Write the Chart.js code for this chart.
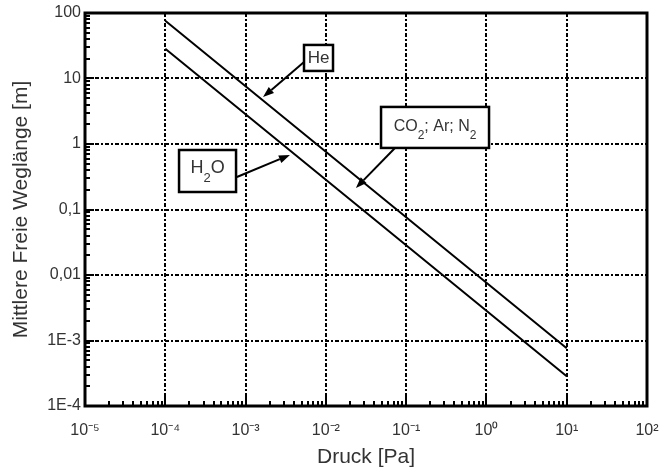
<!DOCTYPE html>
<html>
<head>
<meta charset="utf-8">
<script src="https://cdn.jsdelivr.net/npm/chart.js@4/dist/chart.umd.min.js"></script>
<style>
html,body{margin:0;padding:0;background:#fff;}
canvas{display:block;}
</style>
</head>
<body>
<canvas id="c" width="660" height="470"></canvas>
<script>
// ---- data ----
const pressure = [1e-4, 1e-3, 1e-2, 1e-1, 1, 10];
const heValues = [76, 7.6, 0.76, 0.076, 0.0076, 0.00076];
const h2oValues = [28.5, 2.85, 0.285, 0.0285, 0.00285, 0.000285];
const xTickValues = [1e-5, 1e-4, 1e-3, 1e-2, 1e-1, 1, 10, 100];
const xTickLabels = ['10⁻⁵', '10⁻⁴', '10⁻³', '10⁻²', '10⁻¹', '10⁰', '10¹', '10²'];
const yTickValues = [1e-4, 1e-3, 0.01, 0.1, 1, 10, 100];
const yTickLabels = ['1E-4', '1E-3', '0,01', '0,1', '1', '10', '100'];
const xTitle = 'Druck [Pa]';
const yTitle = 'Mittlere Freie Weglänge [m]';
// annotation labels (text parts, sub = subscript), anchored in data coordinates
const annotations = [
  {parts: [{t: 'He'}], box: [8.1e-3, 20.6], from: [5.35e-3, 17.9], tip: [1.65e-3, 5.2], w: 29, h: 26, size: 17, dy: 0},
  {parts: [{t: 'H'}, {t: '2', sub: true}, {t: 'O'}], box: [3.36e-4, 0.387], from: [7.8e-4, 0.313], tip: [3.57e-3, 0.68], w: 57, h: 42, size: 18, dy: -3},
  {parts: [{t: 'CO'}, {t: '2', sub: true}, {t: '; Ar; N'}, {t: '2', sub: true}], box: [0.229, 1.79], from: [0.0726, 0.869], tip: [0.0237, 0.213], w: 108, h: 41, size: 16, dy: -1}
];

const FONT = '"Liberation Sans", Arial, sans-serif';
const TEXT = '#333';

const decorPlugin = {
  id: 'decor',
  afterDatasetsDraw(chart) {
    const ctx = chart.ctx, a = chart.chartArea;
    const xs = chart.scales.x, ys = chart.scales.y;
    ctx.save();
    ctx.strokeStyle = '#000';
    ctx.lineWidth = 2;
    ctx.setLineDash([]);
    // minor/major ticks on bottom axis (inward)
    for (let d = -5; d < 2; d++) {
      for (let k = 1; k <= 9; k++) {
        const v = k * Math.pow(10, d);
        const px = Math.round(xs.getPixelForValue(v));
        const len = k === 1 ? 9 : 5;
        ctx.beginPath(); ctx.moveTo(px, a.bottom); ctx.lineTo(px, a.bottom - len); ctx.stroke();
      }
    }
    // ticks on left axis (inward)
    for (let d = -4; d < 2; d++) {
      for (let k = 1; k <= 9; k++) {
        const v = k * Math.pow(10, d);
        const py = Math.round(ys.getPixelForValue(v));
        const len = k === 1 ? 9 : 5;
        ctx.beginPath(); ctx.moveTo(a.left, py); ctx.lineTo(a.left + len, py); ctx.stroke();
      }
    }
    // frame
    ctx.lineWidth = 3;
    ctx.strokeRect(a.left, a.top, a.right - a.left, a.bottom - a.top);

    // annotations
    annotations.forEach(an => {
      const bx = xs.getPixelForValue(an.box[0]), by = ys.getPixelForValue(an.box[1]);
      const fx = xs.getPixelForValue(an.from[0]), fy = ys.getPixelForValue(an.from[1]);
      const tx = xs.getPixelForValue(an.tip[0]), ty = ys.getPixelForValue(an.tip[1]);
      // arrow
      ctx.lineWidth = 2;
      ctx.strokeStyle = '#000';
      ctx.fillStyle = '#000';
      const ang = Math.atan2(ty - fy, tx - fx);
      const hl = 11, hw = 4;
      const bxl = tx - hl * Math.cos(ang), byl = ty - hl * Math.sin(ang);
      ctx.beginPath(); ctx.moveTo(fx, fy); ctx.lineTo(bxl, byl); ctx.stroke();
      ctx.beginPath();
      ctx.moveTo(tx, ty);
      ctx.lineTo(bxl + hw * Math.sin(ang), byl - hw * Math.cos(ang));
      ctx.lineTo(bxl - hw * Math.sin(ang), byl + hw * Math.cos(ang));
      ctx.closePath(); ctx.fill();
      // box
      ctx.fillStyle = '#fff';
      ctx.fillRect(bx - an.w / 2, by - an.h / 2, an.w, an.h);
      ctx.lineWidth = 2.5;
      ctx.strokeRect(bx - an.w / 2, by - an.h / 2, an.w, an.h);
      // text
      const main = an.size + 'px ' + FONT;
      const small = Math.round(an.size * 0.72) + 'px ' + FONT;
      let total = 0;
      an.parts.forEach(p => { ctx.font = p.sub ? small : main; total += ctx.measureText(p.t).width; });
      let x = bx - total / 2;
      const ty0 = by + an.dy;
      ctx.fillStyle = TEXT;
      ctx.textBaseline = 'middle';
      ctx.textAlign = 'left';
      an.parts.forEach(p => {
        ctx.font = p.sub ? small : main;
        ctx.fillText(p.t, x, ty0 + (p.sub ? an.size * 0.6 : 0));
        x += ctx.measureText(p.t).width;
      });
    });
    ctx.restore();
  }
};

const lineStyle = {borderColor: '#000', backgroundColor: '#000', borderWidth: 2, pointRadius: 0, showLine: true, fill: false, tension: 0};

new Chart(document.getElementById('c'), {
  type: 'scatter',
  data: {
    datasets: [
      Object.assign({label: 'He', data: pressure.map((p, i) => ({x: p, y: heValues[i]}))}, lineStyle),
      Object.assign({label: 'H₂O', data: pressure.map((p, i) => ({x: p, y: h2oValues[i]}))}, lineStyle)
    ]
  },
  options: {
    responsive: false,
    animation: false,
    layout: {padding: {top: 13, right: 13, left: 0, bottom: 0}},
    plugins: {legend: {display: false}, tooltip: {enabled: false}},
    scales: {
      x: {
        type: 'logarithmic', min: 1e-5, max: 100,
        afterBuildTicks: s => { s.ticks = xTickValues.map(v => ({value: v, major: true})); },
        afterFit: s => { s.height = 64; s.paddingRight = 0; s.paddingLeft = 0; },
        ticks: {
          autoSkip: false, maxRotation: 0, padding: 15, color: TEXT,
          font: {family: FONT, size: 16},
          callback: (v, i) => xTickLabels[i]
        },
        grid: {color: '#000', lineWidth: 2, drawTicks: false, tickLength: 0},
        border: {display: false, dash: [4, 2, 2, 2]},
        title: {display: true, text: xTitle, color: TEXT, font: {family: FONT, size: 21}, padding: {top: 0, bottom: 0}}
      },
      y: {
        type: 'logarithmic', min: 1e-4, max: 100,
        afterBuildTicks: s => { s.ticks = yTickValues.map(v => ({value: v, major: true})); },
        afterFit: s => { s.width = 85; s.paddingTop = 0; s.paddingBottom = 0; },
        ticks: {
          autoSkip: false, padding: 4, color: TEXT,
          font: {family: FONT, size: 16},
          callback: (v, i) => yTickLabels[i]
        },
        grid: {color: '#000', lineWidth: 2, drawTicks: false, tickLength: 0},
        border: {display: false, dash: [4, 2, 2, 2]},
        title: {display: true, text: yTitle, color: TEXT, font: {family: FONT, size: 21}, padding: {top: 9, bottom: 0}}
      }
    }
  },
  plugins: [decorPlugin]
});
</script>
</body>
</html>
